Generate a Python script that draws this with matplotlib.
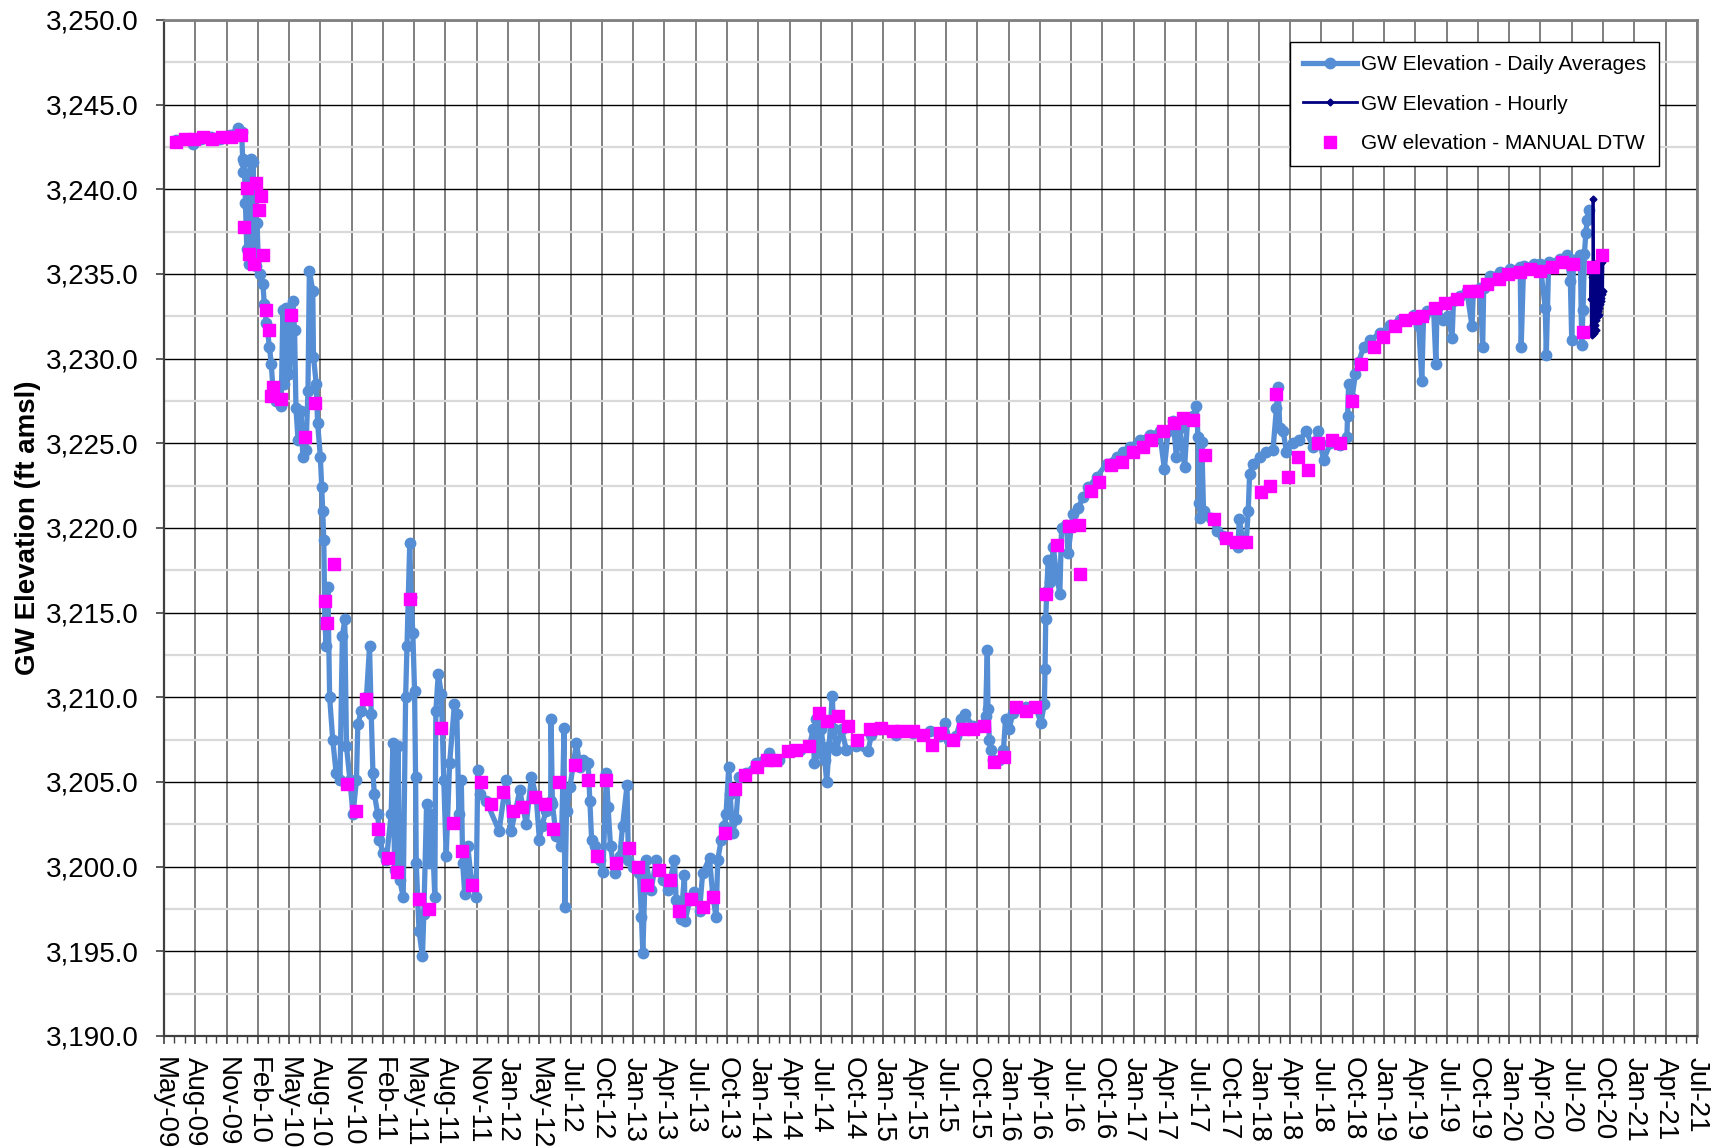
import matplotlib
matplotlib.use("Agg")
import matplotlib.pyplot as plt
import matplotlib.dates as mdates
import matplotlib.ticker as mticker
import numpy as np
import pandas as pd

plt.rcParams['font.family'] = ['Liberation Sans', 'DejaVu Sans']

# ---- GW elevation, daily averages ----
daily_dates = [
    # 2009
    "2009-06-10", "2009-07-08", "2009-07-29", "2009-08-22", "2009-09-19", "2009-10-16",
    "2009-11-12", "2009-12-05", "2009-12-17", "2009-12-20", "2009-12-22", "2009-12-25",
    "2009-12-28",
    # 2010
    "2010-01-01", "2010-01-04", "2010-01-07", "2010-01-10", "2010-01-13", "2010-01-16",
    "2010-01-19", "2010-01-22", "2010-01-25", "2010-01-28", "2010-01-31", "2010-02-03",
    "2010-02-07", "2010-02-17", "2010-02-21", "2010-02-27", "2010-03-08", "2010-03-13",
    "2010-03-18", "2010-03-28", "2010-04-11", "2010-04-16", "2010-04-20", "2010-04-25",
    "2010-05-05", "2010-05-15", "2010-05-20", "2010-05-24", "2010-05-30", "2010-06-08",
    "2010-06-13", "2010-06-22", "2010-06-28", "2010-07-02", "2010-07-12", "2010-07-14",
    "2010-07-22", "2010-07-26", "2010-08-03", "2010-08-07", "2010-08-10", "2010-08-13",
    "2010-08-16", "2010-08-20", "2010-08-25", "2010-08-30", "2010-09-08", "2010-09-18",
    "2010-09-29", "2010-10-06", "2010-10-13", "2010-10-18", "2010-10-28", "2010-11-06",
    "2010-11-16", "2010-11-20", "2010-11-30", "2010-12-15", "2010-12-24", "2010-12-29",
    # 2011
    "2011-01-03", "2011-01-07", "2011-01-17", "2011-01-22", "2011-02-01", "2011-02-11",
    "2011-02-25", "2011-03-02", "2011-03-07", "2011-03-17", "2011-03-22", "2011-04-01",
    "2011-04-08", "2011-04-12", "2011-04-20", "2011-04-24", "2011-04-29", "2011-05-04",
    "2011-05-07", "2011-05-09", "2011-05-17", "2011-05-27", "2011-05-31", "2011-06-08",
    "2011-06-16", "2011-06-22", "2011-07-02", "2011-07-05", "2011-07-12", "2011-07-21",
    "2011-07-28", "2011-08-04", "2011-08-14", "2011-08-28", "2011-09-04", "2011-09-10",
    "2011-09-17", "2011-09-21", "2011-09-27", "2011-10-06", "2011-10-16", "2011-10-30",
    "2011-11-04", "2011-11-09", "2011-11-28",
    # 2012
    "2012-01-05", "2012-01-25", "2012-02-09", "2012-03-05", "2012-03-24", "2012-04-08",
    "2012-04-22", "2012-05-01", "2012-05-08", "2012-05-21", "2012-06-03", "2012-06-04",
    "2012-06-08", "2012-06-19", "2012-07-04", "2012-07-12", "2012-07-14", "2012-07-19",
    "2012-07-29", "2012-08-17", "2012-08-27", "2012-09-05", "2012-09-20", "2012-09-25",
    "2012-09-30", "2012-10-10", "2012-10-24", "2012-11-02", "2012-11-12", "2012-11-17",
    "2012-11-24", "2012-12-06", "2012-12-21", "2012-12-29",
    # 2013
    "2013-01-11", "2013-01-15", "2013-01-28", "2013-02-16", "2013-02-22", "2013-02-26",
    "2013-03-06", "2013-03-22", "2013-04-06", "2013-04-25", "2013-05-10", "2013-05-29",
    "2013-06-03", "2013-06-17", "2013-06-27", "2013-06-29", "2013-07-12", "2013-07-26",
    "2013-08-10", "2013-08-19", "2013-09-08", "2013-09-17", "2013-09-27", "2013-10-02",
    "2013-10-12", "2013-10-21", "2013-10-26", "2013-11-03", "2013-11-07", "2013-11-14",
    "2013-11-24", "2013-12-03", "2013-12-23",
    # 2014
    "2014-01-21", "2014-02-28", "2014-03-30", "2014-04-28", "2014-05-28", "2014-06-27",
    "2014-07-06", "2014-07-10", "2014-07-16", "2014-07-24", "2014-07-30", "2014-08-09",
    "2014-08-15", "2014-08-22", "2014-08-31", "2014-09-04", "2014-09-12", "2014-09-27",
    "2014-10-11", "2014-11-09", "2014-12-13", "2014-12-23",
    # 2015
    "2015-01-16", "2015-03-04", "2015-04-23", "2015-06-10", "2015-07-09", "2015-07-24",
    "2015-08-07", "2015-08-26", "2015-09-10", "2015-09-20", "2015-10-14", "2015-11-07",
    "2015-11-20", "2015-11-25", "2015-11-27", "2015-12-01", "2015-12-06", "2015-12-13",
    "2015-12-30",
    # 2016
    "2016-01-11", "2016-01-17", "2016-01-28", "2016-02-07", "2016-03-16", "2016-04-14",
    "2016-04-29", "2016-05-09", "2016-05-11", "2016-05-13", "2016-05-16", "2016-05-20",
    "2016-05-26", "2016-06-04", "2016-06-13", "2016-06-23", "2016-06-28", "2016-07-12",
    "2016-07-17", "2016-07-31", "2016-08-15", "2016-08-30", "2016-09-14", "2016-10-08",
    "2016-11-06", "2016-12-05", "2016-12-24",
    # 2017
    "2017-01-12", "2017-02-10", "2017-03-11", "2017-04-09", "2017-04-23", "2017-05-04",
    "2017-05-19", "2017-05-28", "2017-06-07", "2017-06-21", "2017-06-30", "2017-07-15",
    "2017-07-25", "2017-07-30", "2017-08-02", "2017-08-06", "2017-08-10", "2017-08-15",
    "2017-09-07", "2017-09-22", "2017-10-11", "2017-11-08", "2017-11-23", "2017-11-27",
    "2017-12-07", "2017-12-17", "2017-12-23", "2017-12-27",
    # 2018
    "2018-01-06", "2018-01-25", "2018-02-13", "2018-03-05", "2018-03-15", "2018-03-20",
    "2018-03-25", "2018-04-04", "2018-04-13", "2018-05-02", "2018-05-21", "2018-06-10",
    "2018-06-29", "2018-07-13", "2018-07-21", "2018-07-30", "2018-08-19", "2018-09-17",
    "2018-10-06", "2018-10-08", "2018-10-11", "2018-10-21", "2018-10-31", "2018-11-09",
    "2018-11-24", "2018-12-13",
    # 2019
    "2019-01-11", "2019-02-09", "2019-03-10", "2019-04-18", "2019-05-03", "2019-05-12",
    "2019-05-17", "2019-05-26", "2019-06-15", "2019-06-22", "2019-06-25", "2019-07-14",
    "2019-07-28", "2019-08-08", "2019-08-12", "2019-09-01", "2019-09-20", "2019-10-05",
    "2019-10-09", "2019-10-28", "2019-11-05", "2019-11-08", "2019-11-27", "2019-12-26",
    # 2020
    "2020-01-24", "2020-02-22", "2020-02-25", "2020-03-03", "2020-04-01", "2020-04-20",
    "2020-05-05", "2020-05-08", "2020-05-15", "2020-06-18", "2020-07-07", "2020-07-17",
    "2020-07-21", "2020-07-26", "2020-08-15", "2020-08-19", "2020-08-23", "2020-08-27",
    "2020-08-31", "2020-09-04", "2020-09-08",
]
daily_elev = [
    # 2009
    3242.9, 3243.0, 3242.7, 3243.0, 3243.1, 3243.0,
    3243.2, 3243.6, 3243.4, 3241.8, 3241.0, 3241.6,
    3239.2,
    # 2010
    3236.5, 3240.6, 3235.6, 3238.2, 3241.8, 3237.2,
    3241.6, 3236.2, 3239.8, 3235.5, 3238.0, 3236.0,
    3235.0, 3234.4, 3233.2, 3232.1, 3230.7, 3229.7,
    3228.3, 3227.5, 3227.2, 3232.9, 3228.5, 3233.0,
    3229.1, 3233.4, 3231.7, 3227.1, 3225.2, 3226.9,
    3224.2, 3224.6, 3228.1, 3235.2, 3234.0, 3230.1,
    3228.5, 3226.2, 3224.2, 3222.4, 3221.0, 3219.3,
    3214.5, 3213.0, 3216.5, 3210.0, 3207.5, 3205.5,
    3205.1, 3213.6, 3214.6, 3207.1, 3205.1, 3203.1,
    3205.1, 3208.4, 3209.2, 3210.0, 3213.0, 3209.0,
    # 2011
    3205.5, 3204.3, 3203.1, 3201.6, 3200.8, 3200.4,
    3203.1, 3207.3, 3199.8, 3207.1, 3199.2, 3198.2,
    3210.0, 3213.0, 3219.1, 3215.9, 3213.8, 3210.4,
    3205.3, 3200.2, 3196.2, 3194.7, 3197.2, 3203.7,
    3200.2, 3203.1, 3198.2, 3209.2, 3211.4, 3210.2,
    3205.1, 3200.6, 3206.1, 3209.6, 3209.0, 3203.1,
    3205.1, 3200.2, 3198.4, 3201.2, 3199.2, 3198.2,
    3205.7, 3204.3, 3203.9,
    # 2012
    3202.1, 3205.1, 3202.1, 3204.5, 3202.5, 3205.3,
    3204.1, 3201.6, 3202.4, 3203.3, 3203.9, 3208.7,
    3203.7, 3201.8, 3201.2, 3208.2, 3197.6, 3203.3,
    3204.7, 3207.3, 3205.9, 3206.3, 3206.1, 3203.9,
    3201.6, 3201.2, 3200.4, 3199.7, 3205.5, 3203.5,
    3201.2, 3199.6, 3200.6, 3202.4,
    # 2013
    3204.8, 3200.4, 3200.0, 3199.6, 3197.0, 3194.9,
    3200.4, 3198.6, 3200.4, 3199.2, 3198.6, 3200.4,
    3198.0, 3196.9, 3199.5, 3196.8, 3198.0, 3198.5,
    3197.4, 3199.6, 3200.5, 3198.4, 3197.0, 3200.4,
    3201.6, 3202.4, 3203.1, 3205.9, 3204.3, 3202.0,
    3202.8, 3205.3, 3205.5,
    # 2014
    3206.1, 3206.7, 3206.3, 3206.8, 3206.9, 3207.2,
    3208.1, 3206.1, 3208.7, 3206.7, 3208.1, 3206.3,
    3205.0, 3207.1, 3210.1, 3208.1, 3206.9, 3208.1,
    3206.9, 3207.1, 3206.8, 3207.8,
    # 2015
    3208.1, 3207.8, 3207.9, 3208.0, 3207.7, 3208.5,
    3207.5, 3207.7, 3208.7, 3209.0, 3208.3, 3208.3,
    3208.9, 3212.8, 3209.3, 3207.5, 3206.9, 3206.3,
    3206.3,
    # 2016
    3206.9, 3208.7, 3208.1, 3209.1, 3209.4, 3209.4,
    3208.5, 3209.6, 3211.7, 3214.6, 3216.3, 3218.1,
    3216.8, 3218.9, 3217.3, 3216.1, 3220.0, 3220.2,
    3218.5, 3220.8, 3221.2, 3221.8, 3222.4, 3223.0,
    3223.8, 3224.2, 3224.5,
    # 2017
    3224.8, 3225.2, 3225.5, 3225.7, 3223.5, 3225.7,
    3226.3, 3224.2, 3225.9, 3223.6, 3226.5, 3226.6,
    3227.2, 3225.4, 3221.5, 3220.6, 3225.1, 3221.0,
    3220.6, 3219.8, 3219.5, 3219.2, 3218.9, 3220.5,
    3219.3, 3219.1, 3221.0, 3223.2,
    # 2018
    3223.8, 3224.2, 3224.5, 3224.6, 3227.1, 3228.3,
    3225.9, 3225.7, 3224.5, 3225.0, 3225.2, 3225.7,
    3224.8, 3225.7, 3225.0, 3224.0, 3225.0, 3224.9,
    3225.4, 3226.6, 3228.5, 3227.7, 3229.1, 3229.8,
    3230.7, 3231.1,
    # 2019
    3231.5, 3232.0, 3232.3, 3232.6, 3231.9, 3228.7,
    3232.5, 3232.8, 3233.0, 3229.7, 3233.0, 3232.3,
    3232.5, 3231.2, 3233.4, 3233.7, 3234.0, 3231.9,
    3234.0, 3234.2, 3230.7, 3234.2, 3234.9, 3235.1,
    # 2020
    3235.3, 3235.4, 3230.7, 3235.5, 3235.6, 3235.6,
    3233.0, 3230.2, 3235.7, 3235.9, 3236.1, 3234.6,
    3231.1, 3235.8, 3236.1, 3230.8, 3232.9, 3236.2,
    3237.4, 3238.2, 3238.8,
]

# ---- GW elevation, hourly logger (one reading per day shown) ----
hourly_start = "2020-09-14"
hourly_elev = [
    3233.5, 3235.2, 3231.6, 3235.0, 3231.4, 3234.8, 3232.0, 3239.4, 3235.5, 3231.5,
    3235.3, 3231.8, 3235.6, 3232.0, 3235.4, 3231.7, 3235.2, 3232.3, 3235.5, 3232.5,
    3235.4, 3232.8, 3235.7, 3232.6, 3235.5, 3233.0, 3235.8, 3233.2, 3235.6, 3233.4,
    3235.9, 3233.6, 3235.7, 3233.8, 3236.0, 3234.0, 3235.8,
]

# ---- GW elevation from manual depth-to-water ----
manual_dates = [
    "2009-06-08", "2009-07-04", "2009-08-01", "2009-08-27", "2009-09-23", "2009-10-21",
    "2009-11-17", "2009-12-14", "2009-12-24", "2010-01-01", "2010-01-08", "2010-01-23",
    "2010-01-28", "2010-02-05", "2010-02-12", "2010-02-18", "2010-02-27", "2010-03-06",
    "2010-03-13", "2010-03-18", "2010-04-11", "2010-05-10", "2010-06-19", "2010-07-18",
    "2010-08-17", "2010-08-21", "2010-09-12", "2010-10-19", "2010-11-16", "2010-12-15",
    "2011-01-18", "2011-02-15", "2011-03-15", "2011-04-20", "2011-05-16", "2011-06-16",
    "2011-07-19", "2011-08-23", "2011-09-19", "2011-10-17", "2011-11-14", "2011-12-13",
    "2012-01-16", "2012-02-14", "2012-03-12", "2012-04-17", "2012-05-16", "2012-06-11",
    "2012-06-28", "2012-08-14", "2012-09-19", "2012-10-16", "2012-11-12", "2012-12-11",
    "2013-01-16", "2013-02-12", "2013-03-11", "2013-04-15", "2013-05-15", "2013-06-11",
    "2013-07-16", "2013-08-19", "2013-09-17", "2013-10-23", "2013-11-20", "2013-12-19",
    "2014-01-24", "2014-02-22", "2014-03-18", "2014-04-23", "2014-05-17", "2014-06-25",
    "2014-07-23", "2014-08-17", "2014-09-16", "2014-10-15", "2014-11-11", "2014-12-18",
    "2015-01-21", "2015-02-24", "2015-03-20", "2015-04-23", "2015-05-22", "2015-06-18",
    "2015-07-11", "2015-08-16", "2015-09-16", "2015-10-14", "2015-11-16", "2015-12-15",
    "2016-01-14", "2016-02-16", "2016-03-16", "2016-04-12", "2016-05-13", "2016-06-16",
    "2016-07-20", "2016-08-17", "2016-08-21", "2016-09-22", "2016-10-16", "2016-11-18",
    "2016-12-22", "2017-01-21", "2017-02-19", "2017-03-16", "2017-04-19", "2017-05-20",
    "2017-06-16", "2017-07-15", "2017-08-19", "2017-09-15", "2017-10-19", "2017-11-17",
    "2017-12-17", "2018-01-29", "2018-02-23", "2018-03-15", "2018-04-18", "2018-05-16",
    "2018-06-14", "2018-07-13", "2018-08-24", "2018-09-17", "2018-10-21", "2018-11-17",
    "2018-12-23", "2019-01-19", "2019-02-24", "2019-03-25", "2019-04-23", "2019-05-12",
    "2019-06-20", "2019-07-19", "2019-08-22", "2019-09-25", "2019-10-20", "2019-11-18",
    "2019-12-22", "2020-01-19", "2020-02-22", "2020-03-22", "2020-04-20", "2020-05-24",
    "2020-06-23", "2020-07-24", "2020-08-22", "2020-09-21", "2020-10-18",
]
manual_elev = [
    3242.8, 3243.0, 3243.0, 3243.1, 3243.0, 3243.1,
    3243.1, 3243.2, 3237.8, 3240.1, 3236.2, 3235.6,
    3240.4, 3238.8, 3239.6, 3236.1, 3232.9, 3231.7,
    3227.8, 3228.3, 3227.6, 3232.6, 3225.4, 3227.4,
    3215.7, 3214.4, 3217.9, 3204.9, 3203.3, 3209.9,
    3202.2, 3200.5, 3199.7, 3215.8, 3198.1, 3197.5,
    3208.2, 3202.6, 3200.9, 3198.9, 3205.0, 3203.7,
    3204.4, 3203.3, 3203.5, 3204.1, 3203.7, 3202.2,
    3205.0, 3206.0, 3205.1, 3200.6, 3205.1, 3200.2,
    3201.1, 3200.0, 3198.9, 3199.8, 3199.2, 3197.4,
    3198.1, 3197.6, 3198.2, 3202.0, 3204.6, 3205.4,
    3205.9, 3206.3, 3206.3, 3206.8, 3206.9, 3207.1,
    3209.1, 3208.6, 3208.9, 3208.3, 3207.5, 3208.1,
    3208.2, 3208.0, 3208.0, 3208.0, 3207.8, 3207.2,
    3207.9, 3207.5, 3208.1, 3208.1, 3208.3, 3206.2,
    3206.5, 3209.4, 3209.2, 3209.4, 3216.1, 3219.0,
    3220.1, 3220.2, 3217.3, 3222.2, 3222.7, 3223.7,
    3223.9, 3224.5, 3224.8, 3225.2, 3225.7, 3226.2,
    3226.5, 3226.4, 3224.3, 3220.5, 3219.4, 3219.2,
    3219.2, 3222.1, 3222.5, 3227.9, 3223.0, 3224.2,
    3223.4, 3225.0, 3225.2, 3225.0, 3227.5, 3229.7,
    3230.7, 3231.3, 3231.9, 3232.3, 3232.4, 3232.5,
    3233.0, 3233.3, 3233.5, 3234.0, 3234.0, 3234.4,
    3234.7, 3235.0, 3235.1, 3235.3, 3235.2, 3235.4,
    3235.7, 3235.6, 3231.6, 3235.4, 3236.1,
]

d_daily = pd.to_datetime(daily_dates)
d_hourly = pd.date_range(hourly_start, periods=len(hourly_elev), freq="D")
d_manual = pd.to_datetime(manual_dates)

fig = plt.figure(figsize=(17.22, 11.48), dpi=100)
ax = fig.add_axes([0.0952, 0.0976, 0.8902, 0.885])

ax.plot(d_daily, daily_elev, color="#558ed5", lw=3.8, marker="o", ms=7.5,
        label="GW Elevation - Daily Averages", zorder=3)
ax.plot(d_hourly, hourly_elev, color="#000080", lw=2.0, marker="D", ms=3.5,
        label="GW Elevation - Hourly", zorder=4)
ax.plot(d_manual, manual_elev, ls="none", marker="s", ms=8.5, color="#ff00ff",
        label="GW elevation - MANUAL DTW", zorder=5)

# x axis: Excel style, fixed 91 day major unit
x0 = pd.Timestamp("2009-05-05")
majors = pd.date_range(x0, periods=50, freq="91D")
ax.set_xlim(majors[0], majors[-1])
ax.set_xticks(majors)
n0 = mdates.date2num(majors[0])
n1 = mdates.date2num(majors[-1])
ax.set_xticks(np.arange(n0, n1 + 1, 91 / 3.0), minor=True)
ax.xaxis.set_major_formatter(mdates.DateFormatter("%b-%y"))
plt.setp(ax.get_xticklabels(), rotation=270, ha="center", va="top")

# y axis
ax.set_ylim(3190, 3250)
ax.yaxis.set_major_locator(mticker.MultipleLocator(5))
ax.yaxis.set_minor_locator(mticker.MultipleLocator(2.5))
ax.yaxis.set_major_formatter(mticker.StrMethodFormatter("{x:,.1f}"))

ax.tick_params(axis="both", which="major", labelsize=20, direction="out",
               length=6, width=1.2, color="#404040")
ax.tick_params(axis="y", which="major", pad=12)
ax.tick_params(axis="x", which="major", pad=9)
ax.tick_params(axis="x", which="minor", direction="out", length=5, width=1,
               color="#404040")
ax.tick_params(axis="y", which="minor", length=0)

ax.set_ylabel("GW Elevation (ft amsl)", fontsize=20, fontweight="bold")
ax.yaxis.set_label_coords(-0.080, 0.5)

# gridlines
ax.set_axisbelow(True)
ax.grid(axis="x", which="major", color="#7f7f7f", lw=1.4)
ax.grid(axis="y", which="major", color="black", lw=1.0)
ax.grid(axis="y", which="minor", color="#d9d9d9", lw=1.6)

for side in ["left", "bottom"]:
    ax.spines[side].set_color("#404040")
    ax.spines[side].set_linewidth(1.6)
for side in ["top", "right"]:
    ax.spines[side].set_color("#808080")
    ax.spines[side].set_linewidth(2.0)

leg = ax.legend(loc="upper right", bbox_to_anchor=(0.975, 0.978), fontsize=15,
                frameon=True, fancybox=False, edgecolor="black", framealpha=1,
                handlelength=2.6, labelspacing=1.0, borderpad=0.6,
                handletextpad=0.2, borderaxespad=0)
leg.get_frame().set_linewidth(1.0)

fig.savefig("out.png", dpi=100)
